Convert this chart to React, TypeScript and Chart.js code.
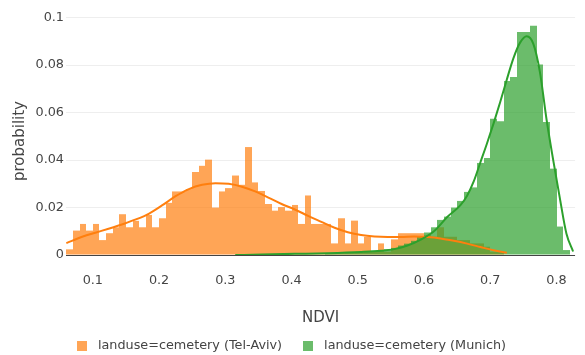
import React, { useEffect, useRef } from "react";
import { Chart, registerables } from "chart.js";

Chart.register(...registerables);

const FONT = "'DejaVu Sans', Verdana, sans-serif";
const TICK_SIZE = 12.8;
const TITLE_SIZE = 15;
const TEXT_COLOR = "#444";

const seriesNames = ["landuse=cemetery (Tel-Aviv)", "landuse=cemetery (Munich)"];
const seriesColors = ["#ff7f0e", "#2ca02c"];
const barColors = ["rgba(255,127,14,0.7)", "rgba(44,160,44,0.7)"];
const xTitle = "NDVI";
const yTitle = "probability";

const binWidth = 0.01;

// Tel-Aviv histogram: first bin centre and bar heights
const telAvivBinStart = 0.065;
const telAvivHist = [
  0.0024, 0.0103, 0.0131, 0.0103, 0.0131, 0.0063, 0.0092, 0.0117, 0.0172, 0.0117,
  0.0144, 0.0117, 0.0169, 0.0117, 0.0155, 0.022, 0.0268, 0.0268, 0.0278, 0.035,
  0.0376, 0.0402, 0.02, 0.0268, 0.0282, 0.0335, 0.0296, 0.0455, 0.0306, 0.027,
  0.0215, 0.0187, 0.0202, 0.0187, 0.0211, 0.0131, 0.0251, 0.0131, 0.0131, 0.0131,
  0.0049, 0.0155, 0.0049, 0.0145, 0.0049, 0.0077, 0.0014, 0.0049, 0.0014, 0.0066,
  0.0092, 0.0092, 0.0092, 0.0092, 0.0085, 0.0077, 0.0117, 0.0077, 0.0077, 0.0063,
  0.0063, 0.0049, 0.0049, 0.0035, 0.0014, 0.0014,
];

// Munich histogram
const munichBinStart = 0.455;
const munichHist = [
  0.0005, 0.0008, 0.0008, 0.001, 0.001, 0.0012, 0.0015, 0.0018, 0.002, 0.0025,
  0.003, 0.004, 0.0048, 0.006, 0.0078, 0.0095, 0.0117, 0.0148, 0.0162, 0.02,
  0.0228, 0.0266, 0.0285, 0.0388, 0.0409, 0.0574, 0.0564, 0.0733, 0.075, 0.094,
  0.094, 0.0966, 0.0803, 0.0561, 0.0364, 0.012, 0.0021,
];

// KDE curves
const telAvivKdeX = [
  0.06, 0.085, 0.105, 0.125, 0.145, 0.165, 0.185, 0.205, 0.225, 0.245, 0.265, 0.285,
  0.305, 0.325, 0.345, 0.365, 0.385, 0.405, 0.425, 0.445, 0.465, 0.485, 0.505, 0.525,
  0.545, 0.565, 0.585, 0.605, 0.625, 0.645, 0.665, 0.685, 0.705, 0.725,
];
const telAvivKdeY = [
  0.005, 0.0078, 0.0095, 0.0112, 0.013, 0.015, 0.0175, 0.021, 0.0248, 0.0278, 0.0296, 0.0303,
  0.03, 0.0288, 0.0268, 0.0242, 0.0215, 0.0192, 0.0165, 0.014, 0.0115, 0.0096, 0.0084, 0.0078,
  0.0076, 0.0076, 0.0078, 0.0076, 0.007, 0.006, 0.0048, 0.0034, 0.002, 0.001,
];
const munichKdeX = [
  0.315, 0.355, 0.405, 0.455, 0.505, 0.535, 0.555, 0.575, 0.595, 0.615, 0.635, 0.655,
  0.665, 0.675, 0.685, 0.695, 0.705, 0.715, 0.725, 0.735, 0.745, 0.755, 0.765, 0.775,
  0.785, 0.795, 0.805, 0.815, 0.825,
];
const munichKdeY = [
  0.0, 0.0002, 0.0005, 0.0008, 0.0013, 0.0018, 0.0025, 0.004, 0.0065, 0.01, 0.016, 0.021,
  0.025, 0.031, 0.039, 0.047, 0.0555, 0.0645, 0.074, 0.083, 0.0895, 0.0922, 0.089, 0.077,
  0.057, 0.04, 0.024, 0.009, 0.0015,
];

const xTicks = [0.1, 0.2, 0.3, 0.4, 0.5, 0.6, 0.7, 0.8];
const yTicks = [0, 0.02, 0.04, 0.06, 0.08, 0.1];
const xRange = [0.0595, 0.828];
const yRange = [0, 0.10325];

function histPoints(start: number, values: number[]) {
  return values.map((v, i) => ({ x: +(start + i * binWidth).toFixed(4), y: v }));
}
function curvePoints(xs: number[], ys: number[]) {
  return xs.map((x, i) => ({ x, y: ys[i] }));
}

// Snap bar edges to whole pixels so adjacent translucent bars do not leave seams.
const snapBarsPlugin = {
  id: "snapBars",
  beforeDatasetsDraw(chart: any) {
    chart.getSortedVisibleDatasetMetas().forEach((meta: any) => {
      if (meta.type !== "bar") return;
      meta.data.forEach((el: any) => {
        const l = Math.round(el.x - el.width / 2);
        const r = Math.round(el.x + el.width / 2);
        el.x = (l + r) / 2;
        el.width = r - l;
      });
    });
  },
};

// Plotly-style y title and horizontal legend.
const decorPlugin = {
  id: "plotlyDecor",
  afterDraw(chart: any) {
    const ctx = chart.ctx;
    const area = chart.chartArea;
    ctx.save();
    // y axis title
    ctx.font = `${TITLE_SIZE}px ${FONT}`;
    ctx.fillStyle = TEXT_COLOR;
    ctx.textAlign = "center";
    ctx.textBaseline = "middle";
    ctx.translate(20, (area.top + area.bottom) / 2 + 8.5);
    ctx.rotate(-Math.PI / 2);
    ctx.fillText(yTitle, 0, 0);
    ctx.restore();

    // legend
    const items = [0, 1].map((i) => ({
      text: chart.data.datasets[i].label as string,
      color: chart.data.datasets[i].backgroundColor as string,
    }));
    ctx.save();
    ctx.font = `${TICK_SIZE}px ${FONT}`;
    const box = 10;
    const gapText = 11;
    const gapItem = 21;
    const widths = items.map((it) => box + gapText + ctx.measureText(it.text).width);
    const total = widths.reduce((a, b) => a + b, 0) + gapItem * (items.length - 1);
    let x = (chart.width - total) / 2 - 1;
    const cy = chart.height - 9.5;
    items.forEach((it, i) => {
      ctx.fillStyle = it.color;
      ctx.fillRect(Math.round(x), Math.round(cy - box / 2), box, box);
      ctx.fillStyle = TEXT_COLOR;
      ctx.textBaseline = "middle";
      ctx.textAlign = "left";
      ctx.fillText(it.text, x + box + gapText, cy);
      x += widths[i] + gapItem;
    });
    ctx.restore();
  },
};

export default function App() {
  const ref = useRef<HTMLCanvasElement | null>(null);

  useEffect(() => {
    if (!ref.current) return;
    const barCommon = {
      type: "bar",
      borderWidth: 0,
      barPercentage: 1,
      categoryPercentage: 1,
      grouped: false,
      inflateAmount: 0,
    };
    const lineCommon = {
      type: "line",
      borderWidth: 2,
      pointRadius: 0,
      fill: false,
      cubicInterpolationMode: "monotone",
    };
    const chart = new Chart(ref.current, {
      type: "bar",
      data: {
        datasets: [
          {
            ...barCommon,
            label: seriesNames[0],
            data: histPoints(telAvivBinStart, telAvivHist),
            backgroundColor: barColors[0],
            order: 4,
          } as any,
          {
            ...barCommon,
            label: seriesNames[1],
            data: histPoints(munichBinStart, munichHist),
            backgroundColor: barColors[1],
            order: 3,
          } as any,
          {
            ...lineCommon,
            label: seriesNames[0] + " kde",
            data: curvePoints(telAvivKdeX, telAvivKdeY),
            borderColor: seriesColors[0],
            order: 2,
          } as any,
          {
            ...lineCommon,
            label: seriesNames[1] + " kde",
            data: curvePoints(munichKdeX, munichKdeY),
            borderColor: seriesColors[1],
            order: 1,
          } as any,
        ],
      },
      plugins: [snapBarsPlugin, decorPlugin],
      options: {
        animation: false,
        responsive: false,
        maintainAspectRatio: false,
        devicePixelRatio: 1,
        layout: { padding: { left: 33.5, right: 0, top: 10, bottom: 28 } },
        plugins: {
          tooltip: { enabled: false },
          legend: { display: false },
        },
        scales: {
          x: {
            type: "linear",
            min: xRange[0],
            max: xRange[1],
            offset: false,
            afterBuildTicks: (s: any) => {
              s.ticks = xTicks.map((v) => ({ value: v }));
            },
            ticks: {
              color: TEXT_COLOR,
              font: { family: FONT, size: TICK_SIZE },
              padding: 18.3,
              maxRotation: 0,
              autoSkip: false,
              callback: (v: any) => String(v),
            },
            grid: { display: false, drawTicks: false, tickLength: 0 },
            border: { display: false },
            title: {
              display: true,
              text: xTitle,
              color: TEXT_COLOR,
              font: { family: FONT, size: TITLE_SIZE },
              padding: { top: 2, bottom: 0 },
            },
          },
          y: {
            min: yRange[0],
            max: yRange[1],
            afterBuildTicks: (s: any) => {
              s.ticks = yTicks.map((v) => ({ value: v }));
            },
            ticks: {
              color: TEXT_COLOR,
              font: { family: FONT, size: TICK_SIZE },
              padding: 2,
              callback: (v: any) => String(v),
            },
            grid: {
              drawTicks: false,
              tickLength: 0,
              color: (c: any) => (c.tick && c.tick.value === 0 ? "#444" : "#eeeeee"),
              lineWidth: 1,
            },
            border: { display: false },
            title: { display: false },
          },
        },
      },
    });
    return () => chart.destroy();
  }, []);

  return (
    <div style={{ position: "fixed", left: 0, top: 0, width: 585, height: 355, background: "#fff" }}>
      <canvas ref={ref} width={585} height={355} style={{ width: 585, height: 355, display: "block" }} />
    </div>
  );
}
